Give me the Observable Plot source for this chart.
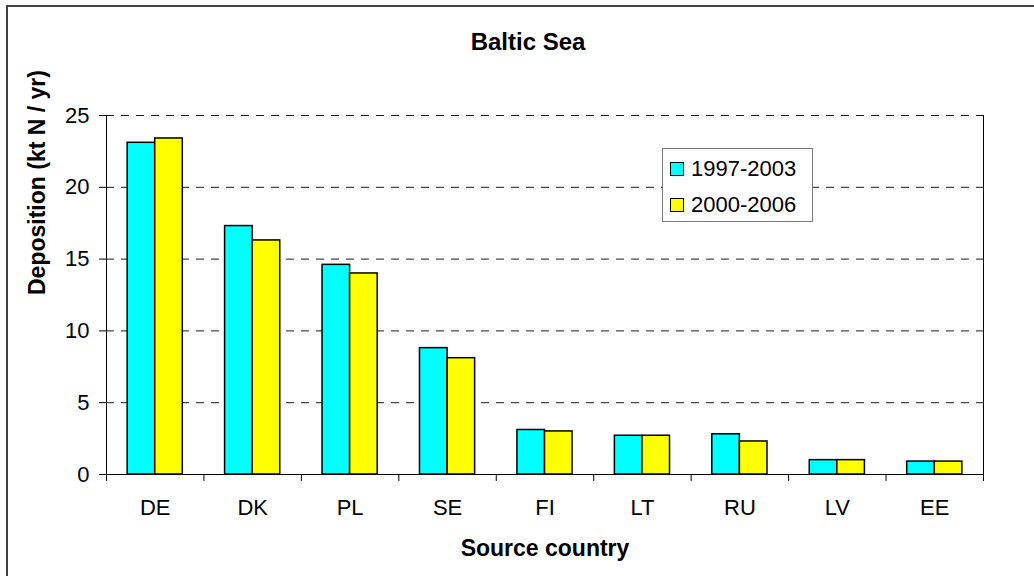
<!DOCTYPE html>
<html>
<head>
<meta charset="utf-8">
<script src="https://cdn.jsdelivr.net/npm/d3@7"></script>
<script src="https://cdn.jsdelivr.net/npm/@observablehq/plot@0.6"></script>
<style>
html, body { margin: 0; padding: 0; background: #fff; overflow: hidden; }
#wrap { position: relative; width: 1034px; height: 576px; overflow: hidden;
  font-family: "Liberation Sans", Arial, Helvetica, sans-serif; }
#wrap svg { position: absolute; left: 0; top: 0; }
#border { position: absolute; left: 6px; top: 5px; width: 1100px; height: 700px;
  border: 2px solid #404040; box-sizing: border-box; pointer-events: none; }
#legend { position: absolute; left: 662px; top: 148px; width: 151px; height: 74px;
  box-sizing: border-box; border: 1.5px solid #7a7a7a; background: #fff; font-size: 22px; color: #000; }
.item { position: absolute; left: 0; width: 100%; height: 28px; line-height: 28px; }
.sw { position: absolute; left: 7px; top: 7px; width: 14px; height: 14px; box-sizing: border-box; border: 1.5px solid #000; }
.lab { position: absolute; left: 28px; top: 0; white-space: nowrap; }
</style>
</head>
<body>
<div id="wrap"></div>
<script>
// ---- data ----
const countries = ["DE", "DK", "PL", "SE", "FI", "LT", "RU", "LV", "EE"];
const seriesNames = ["1997-2003", "2000-2006"];
const values1997_2003 = [23.1, 17.3, 14.6, 8.8, 3.1, 2.7, 2.8, 1.0, 0.9];
const values2000_2006 = [23.4, 16.3, 14.0, 8.1, 3.0, 2.7, 2.3, 1.0, 0.9];
const yTicks = [0, 5, 10, 15, 20, 25];
const titleText = "Baltic Sea";
const xTitle = "Source country";
const yTitle = "Deposition (kt N / yr)";
const seriesColors = ["#00ffff", "#ffff00"];

const rows = countries.map((c, i) => ({country: c, i, v1: values1997_2003[i], v2: values2000_2006[i]}));
const half = 0.283; // bar width as a fraction of a category slot
const font = '"Liberation Sans", Arial, Helvetica, sans-serif';

const chart = Plot.plot({
  width: 1034,
  height: 576,
  marginTop: 115,
  marginBottom: 102,
  marginLeft: 106,
  marginRight: 51,
  style: {fontFamily: font, fontSize: "22px", color: "#000", background: "transparent", overflow: "visible"},
  x: {domain: [0, countries.length], axis: null},
  y: {domain: [0, 25], axis: null},
  marks: [
    Plot.ruleY(yTicks.filter(t => t > 0), {stroke: "#000", strokeWidth: 1, strokeDasharray: "8,7", strokeOpacity: 0.9}),
    Plot.rectY(rows, {x1: d => d.i + 0.5 - half, x2: d => d.i + 0.5, y1: 0, y2: "v1",
      fill: seriesColors[0], stroke: "#000", strokeWidth: 1.5}),
    Plot.rectY(rows, {x1: d => d.i + 0.5, x2: d => d.i + 0.5 + half, y1: 0, y2: "v2",
      fill: seriesColors[1], stroke: "#000", strokeWidth: 1.5}),
    Plot.ruleX([0], {y1: 0, y2: 25, stroke: "#000", strokeWidth: 1}),
    Plot.ruleX([countries.length], {y1: 0, y2: 25, stroke: "#000", strokeWidth: 1}),
    Plot.ruleY([0], {stroke: "#000", strokeWidth: 1}),
    Plot.axisY({ticks: yTicks, tickSize: 7, tickPadding: 10, fontSize: 22, label: null, tickFormat: d => String(d)}),
    Plot.axisX({ticks: d3.range(countries.length + 1), tickSize: 7, tickFormat: () => "", label: null}),
    Plot.axisX({ticks: countries.map((c, i) => i + 0.5), tickSize: 0, tickPadding: 25, fontSize: 22, label: null,
      tickFormat: d => countries[Math.floor(d)]}),
    Plot.text([titleText], {text: d => d, frameAnchor: "top", lineAnchor: "middle", dy: -73, dx: -17, fontWeight: "bold", fontSize: 24}),
    Plot.text([xTitle], {text: d => d, frameAnchor: "bottom", lineAnchor: "middle", dy: 74, fontWeight: "bold", fontSize: 23}),
    Plot.text([yTitle], {text: d => d, frameAnchor: "left", lineAnchor: "middle", dx: -69, rotate: -90, fontWeight: "bold", fontSize: 23})
  ]
});

const wrap = document.getElementById("wrap");
wrap.appendChild(chart);

const border = document.createElement("div");
border.id = "border";
wrap.appendChild(border);

const legend = document.createElement("div");
legend.id = "legend";
const centers = [19.5, 55.5];
seriesNames.forEach((name, k) => {
  const item = document.createElement("div");
  item.className = "item";
  item.style.top = (centers[k] - 14) + "px";
  const sw = document.createElement("div");
  sw.className = "sw";
  sw.style.background = seriesColors[k];
  const lab = document.createElement("span");
  lab.className = "lab";
  lab.textContent = name;
  item.appendChild(sw);
  item.appendChild(lab);
  legend.appendChild(item);
});
wrap.appendChild(legend);
</script>
</body>
</html>
